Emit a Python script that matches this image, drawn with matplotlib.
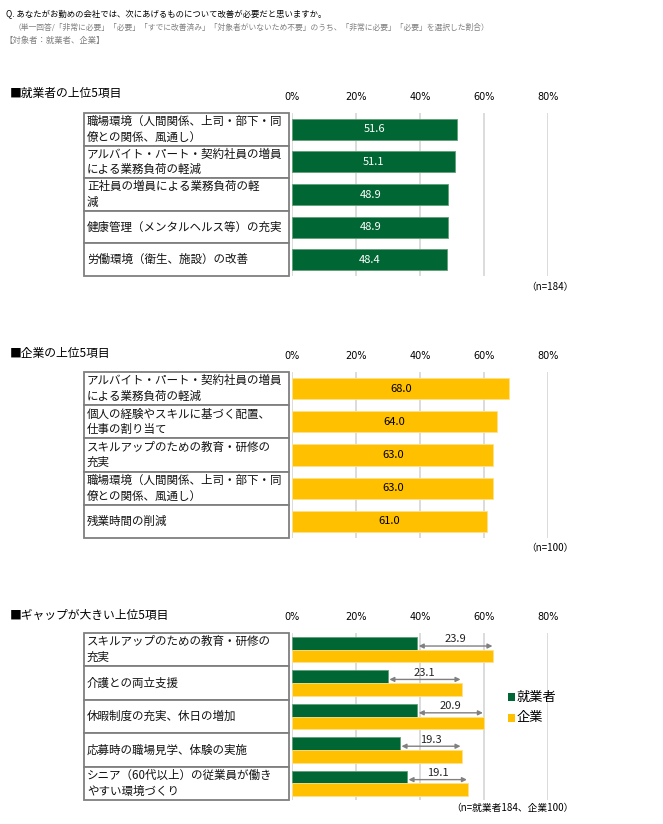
import matplotlib
matplotlib.use("Agg")
import matplotlib.pyplot as plt
from matplotlib.patches import Rectangle
from matplotlib.transforms import blended_transform_factory

plt.rcParams['font.family'] = ['Noto Sans CJK JP', 'DejaVu Sans']

# --- data ---
worker_items = [
    "職場環境（人間関係、上司・部下・同\n僚との関係、風通し）",
    "アルバイト・パート・契約社員の増員\nによる業務負荷の軽減",
    "正社員の増員による業務負荷の軽\n減",
    "健康管理（メンタルヘルス等）の充実",
    "労働環境（衛生、施設）の改善",
]
worker_values = [51.6, 51.1, 48.9, 48.9, 48.4]

company_items = [
    "アルバイト・パート・契約社員の増員\nによる業務負荷の軽減",
    "個人の経験やスキルに基づく配置、\n仕事の割り当て",
    "スキルアップのための教育・研修の\n充実",
    "職場環境（人間関係、上司・部下・同\n僚との関係、風通し）",
    "残業時間の削減",
]
company_values = [68.0, 64.0, 63.0, 63.0, 61.0]

gap_items = [
    "スキルアップのための教育・研修の\n充実",
    "介護との両立支援",
    "休暇制度の充実、休日の増加",
    "応募時の職場見学、体験の実施",
    "シニア（60代以上）の従業員が働き\nやすい環境づくり",
]
gap_worker = [39.1, 29.9, 39.1, 33.7, 35.9]
gap_company = [63.0, 53.0, 60.0, 53.0, 55.0]
gap_diff = [23.9, 23.1, 20.9, 19.3, 19.1]

x_ticks = [0, 20, 40, 60, 80]
x_ticklabels = ["0%", "20%", "40%", "60%", "80%"]

GREEN = "#006633"
YELLOW = "#FFC000"
GREY_TXT = "#808080"

W, H = 663, 824
fig = plt.figure(figsize=(W / 100, H / 100), dpi=100)


def fx(px):
    return px / W


def fy(py):
    return 1 - py / H


def make_axes(top, bottom):
    left, right = 292.3, 547.7
    ax = fig.add_axes([fx(left), fy(bottom), (right - left) / W, (bottom - top) / H])
    ax.set_xlim(0, 80)
    ax.set_ylim(4.5, -0.5)
    ax.set_xticks(x_ticks)
    ax.set_xticklabels(x_ticklabels, fontsize=7, family='DejaVu Sans')
    ax.xaxis.tick_top()
    ax.tick_params(axis='x', length=0, pad=8)
    ax.set_yticks([])
    for s in ax.spines.values():
        s.set_visible(False)
    ax.grid(axis='x', color='#d9d9d9', lw=1.3)
    ax.set_axisbelow(True)
    return ax


def draw_boxes(ax, items):
    tr = blended_transform_factory(fig.transFigure, ax.transData)
    for i, label in enumerate(items):
        ax.add_patch(Rectangle((fx(84), i - 0.5), fx(289) - fx(84), 1.0,
                               transform=tr, facecolor='white', edgecolor='#7f7f7f',
                               lw=1.3, clip_on=False))
        ax.text(fx(87), i, label, transform=tr, ha='left', va='center',
                fontsize=8.3, linespacing=1.25, color='#111111')


# --- header text ---
fig.text(fx(6), fy(15), "Q. あなたがお勤めの会社では、次にあげるものについて改善が必要だと思いますか。",
         fontsize=6, va='center', ha='left')
fig.text(fx(14), fy(28), "（単一回答/「非常に必要」「必要」「すでに改善済み」「対象者がいないため不要」のうち、「非常に必要」「必要」を選択した割合）",
         fontsize=5.6, va='center', ha='left', color=GREY_TXT)
fig.text(fx(4), fy(40), "【対象者：就業者、企業】", fontsize=6, va='center', ha='left', color=GREY_TXT)

# --- chart 1: workers ---
ax1 = make_axes(113, 276)
draw_boxes(ax1, worker_items)
ax1.barh(range(5), worker_values, height=0.64, color=GREEN, edgecolor='#5f9f77', lw=0.6)
for i, v in enumerate(worker_values):
    ax1.text(v / 2, i, f"{v:.1f}", ha='center', va='center', color='white', fontsize=8)
fig.text(fx(10), fy(93), "■就業者の上位5項目", fontsize=8.5, va='center', ha='left')
fig.text(fx(574), fy(287), "（n=184）", fontsize=7, va='center', ha='right')

# --- chart 2: companies ---
ax2 = make_axes(372, 538)
draw_boxes(ax2, company_items)
ax2.barh(range(5), company_values, height=0.64, color=YELLOW, edgecolor='#ffe08a', lw=0.6)
for i, v in enumerate(company_values):
    ax2.text(v / 2, i, f"{v:.1f}", ha='center', va='center', color='black', fontsize=8)
fig.text(fx(10), fy(353), "■企業の上位5項目", fontsize=8.5, va='center', ha='left')
fig.text(fx(574), fy(548), "（n=100）", fontsize=7, va='center', ha='right')

# --- chart 3: gap ---
ax3 = make_axes(633, 800)
draw_boxes(ax3, gap_items)
ys = list(range(5))
ax3.barh([y - 0.19 for y in ys], gap_worker, height=0.38, color=GREEN, edgecolor='#5f9f77', lw=0.6)
ax3.barh([y + 0.19 for y in ys], gap_company, height=0.38, color=YELLOW, edgecolor='#ffe08a', lw=0.6)
for i in ys:
    ax3.annotate("", xy=(gap_company[i] - 0.3, i - 0.11), xytext=(gap_worker[i] + 0.5, i - 0.11),
                 arrowprops=dict(arrowstyle='<|-|>', color='#808080', lw=1.0,
                                 shrinkA=0, shrinkB=0, mutation_scale=7))
    ax3.text((gap_worker[i] + gap_company[i]) / 2, i - 0.31, f"{gap_diff[i]:.1f}",
             ha='center', va='center', fontsize=8, color='#222222')
fig.text(fx(10), fy(615), "■ギャップが大きい上位5項目", fontsize=8.5, va='center', ha='left')
fig.text(fx(574), fy(808), "（n=就業者184、企業100）", fontsize=7, va='center', ha='right')

# legend
for yy, col, lab in [(697, GREEN, "就業者"), (718, YELLOW, "企業")]:
    fig.patches.append(Rectangle((fx(508), fy(yy + 3.7)), 7.3 / W, 7.3 / H,
                                 transform=fig.transFigure, facecolor=col, edgecolor='none'))
    fig.text(fx(517), fy(yy), lab, fontsize=9.5, va='center', ha='left')

fig.savefig("out.png", dpi=100)
